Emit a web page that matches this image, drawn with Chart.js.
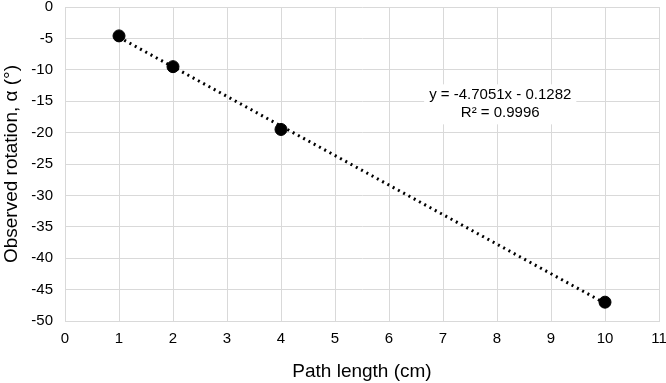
<!DOCTYPE html>
<html>
<head>
<meta charset="utf-8">
<script src="https://cdn.jsdelivr.net/npm/chart.js@4/dist/chart.umd.min.js"></script>
<style>
  html, body { margin: 0; padding: 0; background: #fff; }
  #wrap { width: 666px; height: 383px; }
</style>
</head>
<body>
<div id="wrap"><canvas id="c"></canvas></div>
<script>
// measured points
const pathLength = [1, 2, 4, 10];
const rotation = [-4.6, -9.5, -19.5, -47.0];

// linear trendline endpoints (x = 1 and x = 10)
const trendX = [1, 10];
const trendY = [-4.83, -47.18];

const trendLabel = ['y = -4.7051x - 0.1282', 'R\u00b2 = 0.9996'];
const labelAt = { x: 8.06, y: -15.5 };

const xTicks = { min: 0, max: 11, step: 1 };
const yTicks = { min: -50, max: 0, step: 5 };

const font = 'Liberation Sans, Arial, sans-serif';
const gridColor = '#d9d9d9';

// draws the equation box like Excel does
const trendLabelPlugin = {
    id: 'trendLabel',
    afterDatasetsDraw(chart) {
        const ctx = chart.ctx;
        const x = chart.scales.x.getPixelForValue(labelAt.x);
        const y = chart.scales.y.getPixelForValue(labelAt.y);
        ctx.save();
        ctx.font = '15px ' + font;
        ctx.textAlign = 'center';
        ctx.textBaseline = 'middle';
        const w = Math.max(...trendLabel.map(t => ctx.measureText(t).width)) + 10;
        ctx.fillStyle = '#fff';
        ctx.fillRect(x - w / 2, y - 20, w, 40);
        ctx.fillStyle = '#000';
        ctx.fillText(trendLabel[0], x, y - 9);
        ctx.fillText(trendLabel[1], x, y + 9);
        ctx.restore();
    }
};

new Chart(document.getElementById('c'), {
    type: 'scatter',
    data: {
        datasets: [
            {
                label: 'data',
                data: pathLength.map((v, i) => ({ x: v, y: rotation[i] })),
                backgroundColor: '#000',
                borderColor: '#000',
                pointRadius: 6,
                pointHoverRadius: 6,
                order: 0
            },
            {
                label: 'trend',
                type: 'line',
                data: trendX.map((v, i) => ({ x: v, y: trendY[i] })),
                borderColor: '#000',
                borderWidth: 3,
                borderDash: [2, 4],
                pointRadius: 0,
                fill: false,
                order: 1
            }
        ]
    },
    options: {
        responsive: true,
        maintainAspectRatio: false,
        animation: false,
        layout: { padding: { top: 5, right: 6, left: 0, bottom: 0 } },
        plugins: {
            legend: { display: false },
            tooltip: { enabled: false }
        },
        scales: {
            x: {
                type: 'linear',
                min: xTicks.min,
                max: xTicks.max,
                ticks: { stepSize: xTicks.step, color: '#000', font: { family: font, size: 15 }, padding: 9 },
                grid: { color: gridColor, drawTicks: false },
                border: { color: gridColor },
                title: { display: true, text: 'Path length (cm)', color: '#000', font: { family: font, size: 19 }, padding: { top: 10, bottom: 0 } },
                afterFit(scale) {
                    scale.height = 62;
                    scale.paddingLeft = 0;
                    scale.paddingRight = 0;
                }
            },
            y: {
                min: yTicks.min,
                max: yTicks.max,
                ticks: { stepSize: yTicks.step, color: '#000', font: { family: font, size: 15 }, padding: 12 },
                grid: { color: gridColor, drawTicks: false },
                border: { color: gridColor },
                title: { display: true, text: 'Observed rotation, \u03b1 (\u00b0)', color: '#000', font: { family: font, size: 19 }, padding: { top: 0, bottom: 4 } },
                afterFit(scale) {
                    scale.width = 65;
                    scale.paddingTop = 0;
                    scale.paddingBottom = 0;
                }
            }
        }
    },
    plugins: [trendLabelPlugin]
});
</script>
</body>
</html>
